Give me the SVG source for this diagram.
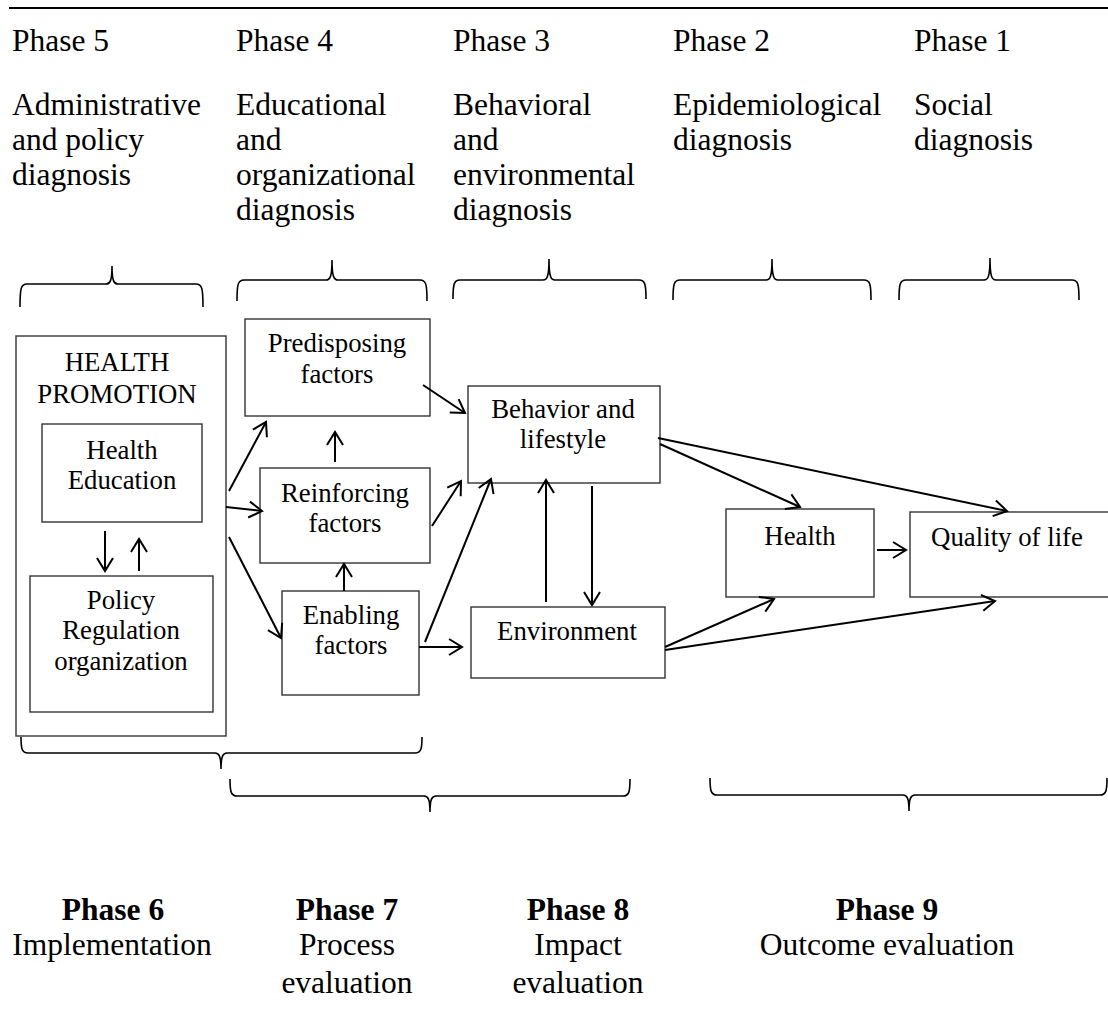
<svg xmlns="http://www.w3.org/2000/svg" width="1108" height="1019" viewBox="0 0 1108 1019">
<style>
text{font-family:"Liberation Serif","Times New Roman",serif;fill:#000}
.h{font-size:31.5px}
.b{font-size:26.8px;text-anchor:middle}
.f{font-size:31.5px;text-anchor:middle}
.fb{font-size:31.5px;text-anchor:middle;font-weight:bold}
.box{fill:#fff;stroke:#333;stroke-width:1.4}
.br{fill:none;stroke:#000;stroke-width:1.6}
.ar{fill:none;stroke:#000;stroke-width:2;marker-end:url(#ah)}
</style>
<defs>
<marker id="ah" viewBox="-15 -10 17 20" refX="0" refY="0" markerWidth="17" markerHeight="20" markerUnits="userSpaceOnUse" orient="auto">
<path d="M-13,-8 L0,0 L-13,8" fill="none" stroke="#000" stroke-width="2"/>
</marker>
</defs>
<rect width="1108" height="1019" fill="#fff"/>
<line x1="9" y1="8" x2="1108" y2="8" stroke="#000" stroke-width="2"/>

<g id="headers">
<text class="h" x="12" y="51">Phase 5</text>
<text class="h" x="12" y="115">Administrative</text>
<text class="h" x="12" y="150">and policy</text>
<text class="h" x="12" y="185">diagnosis</text>
<text class="h" x="236" y="51">Phase 4</text>
<text class="h" x="236" y="115">Educational</text>
<text class="h" x="236" y="150">and</text>
<text class="h" x="236" y="185">organizational</text>
<text class="h" x="236" y="220">diagnosis</text>
<text class="h" x="453" y="51">Phase 3</text>
<text class="h" x="453" y="115">Behavioral</text>
<text class="h" x="453" y="150">and</text>
<text class="h" x="453" y="185">environmental</text>
<text class="h" x="453" y="220">diagnosis</text>
<text class="h" x="673" y="51">Phase 2</text>
<text class="h" x="673" y="115">Epidemiological</text>
<text class="h" x="673" y="150">diagnosis</text>
<text class="h" x="914" y="51">Phase 1</text>
<text class="h" x="914" y="115">Social</text>
<text class="h" x="914" y="150">diagnosis</text>
</g>

<g id="braces">
<path class="br" d="M20,307 C20,288 21,284 27,284 L106,284 C110,284 112,281 112,266 C112,281 114,284 118,284 L196,284 C202,284 203,288 203,307"/>
<path class="br" d="M237,301 C237,284 238,280 244,280 L326,280 C330,280 332,277 332,260 C332,277 334,280 338,280 L420,280 C426,280 427,284 427,301"/>
<path class="br" d="M453,299 C453,284 454,280 460,280 L543,280 C547,280 549,277 549,259 C549,277 551,280 555,280 L639,280 C645,280 646,284 646,299"/>
<path class="br" d="M673,300 C673,284 674,280 680,280 L766,280 C770,280 772,277 772,259 C772,277 774,280 778,280 L864,280 C870,280 871,284 871,300"/>
<path class="br" d="M899,300 C899,284 900,280 906,280 L984,280 C988,280 990,277 990,258 C990,277 992,280 996,280 L1072,280 C1078,280 1079,284 1079,300"/>
<path class="br" d="M21,737 C21,749 22,753 28,753 L215,753 C219,753 221,756 221,769 C221,756 223,753 227,753 L415,753 C421,753 422,749 422,737"/>
<path class="br" d="M230,779 C230,792 231,796 237,796 L424,796 C428,796 430,799 430,812 C430,799 432,796 436,796 L623,796 C629,796 630,792 630,779"/>
<path class="br" d="M710,778 C710,791 711,795 717,795 L903,795 C907,795 909,798 909,811 C909,798 911,795 915,795 L1100,795 C1106,795 1107,791 1107,778"/>
</g>

<g id="health-promotion">
<rect class="box" x="16" y="336" width="210" height="400"/>
<text class="b" x="117" y="371">HEALTH</text>
<text class="b" x="117" y="403">PROMOTION</text>
</g>
<g id="health-education">
<rect class="box" x="42" y="424" width="160" height="98"/>
<text class="b" x="122" y="459">Health</text>
<text class="b" x="122" y="489">Education</text>
</g>
<g id="policy">
<rect class="box" x="30" y="576" width="183" height="136"/>
<text class="b" x="121" y="609">Policy</text>
<text class="b" x="121" y="639">Regulation</text>
<text class="b" x="121" y="670">organization</text>
</g>
<g id="predisposing">
<rect class="box" x="245" y="319" width="185" height="97"/>
<text class="b" x="337" y="352">Predisposing</text>
<text class="b" x="337" y="383">factors</text>
</g>
<g id="reinforcing">
<rect class="box" x="260" y="468" width="170" height="95"/>
<text class="b" x="345" y="502">Reinforcing</text>
<text class="b" x="345" y="532">factors</text>
</g>
<g id="enabling">
<rect class="box" x="282" y="591" width="137" height="104"/>
<text class="b" x="351" y="624">Enabling</text>
<text class="b" x="351" y="654">factors</text>
</g>
<g id="behavior">
<rect class="box" x="468" y="386" width="192" height="97"/>
<text class="b" x="563" y="418">Behavior and</text>
<text class="b" x="563" y="448">lifestyle</text>
</g>
<g id="environment">
<rect class="box" x="471" y="607" width="194" height="71"/>
<text class="b" x="567" y="640">Environment</text>
</g>
<g id="health">
<rect class="box" x="726" y="509" width="148" height="88"/>
<text class="b" x="800" y="545">Health</text>
</g>
<g id="quality">
<rect class="box" x="910" y="512" width="202" height="85"/>
<text class="b" x="1007" y="546">Quality of life</text>
</g>

<g id="connectors">
<line class="ar" x1="105" y1="531" x2="105" y2="571"/>
<line class="ar" x1="139" y1="571" x2="139" y2="539"/>
<line class="ar" x1="229" y1="491" x2="266" y2="422"/>
<line class="ar" x1="226" y1="507" x2="262" y2="511"/>
<line class="ar" x1="229" y1="537" x2="281" y2="638"/>
<line class="ar" x1="344" y1="591" x2="344" y2="564"/>
<line class="ar" x1="335" y1="462" x2="335" y2="432"/>
<line class="ar" x1="423" y1="385" x2="465" y2="413"/>
<line class="ar" x1="432" y1="526" x2="461" y2="481"/>
<line class="ar" x1="425" y1="642" x2="491" y2="479"/>
<line class="ar" x1="419" y1="647" x2="462" y2="647"/>
<line class="ar" x1="546" y1="602" x2="546" y2="480"/>
<line class="ar" x1="592" y1="486" x2="592" y2="605"/>
<line class="ar" x1="660" y1="444" x2="800" y2="507"/>
<line class="ar" x1="658" y1="438" x2="1007" y2="511"/>
<line class="ar" x1="877" y1="550" x2="906" y2="550"/>
<line class="ar" x1="665" y1="647" x2="774" y2="599"/>
<line class="ar" x1="665" y1="650" x2="995" y2="601"/>
</g>

<g id="footers">
<text class="fb" x="113" y="920">Phase 6</text>
<text class="f" x="112" y="955">Implementation</text>
<text class="fb" x="347" y="920">Phase 7</text>
<text class="f" x="347" y="955">Process</text>
<text class="f" x="347" y="993">evaluation</text>
<text class="fb" x="578" y="920">Phase 8</text>
<text class="f" x="578" y="955">Impact</text>
<text class="f" x="578" y="993">evaluation</text>
<text class="fb" x="887" y="920">Phase 9</text>
<text class="f" x="887" y="955">Outcome evaluation</text>
</g>
</svg>
